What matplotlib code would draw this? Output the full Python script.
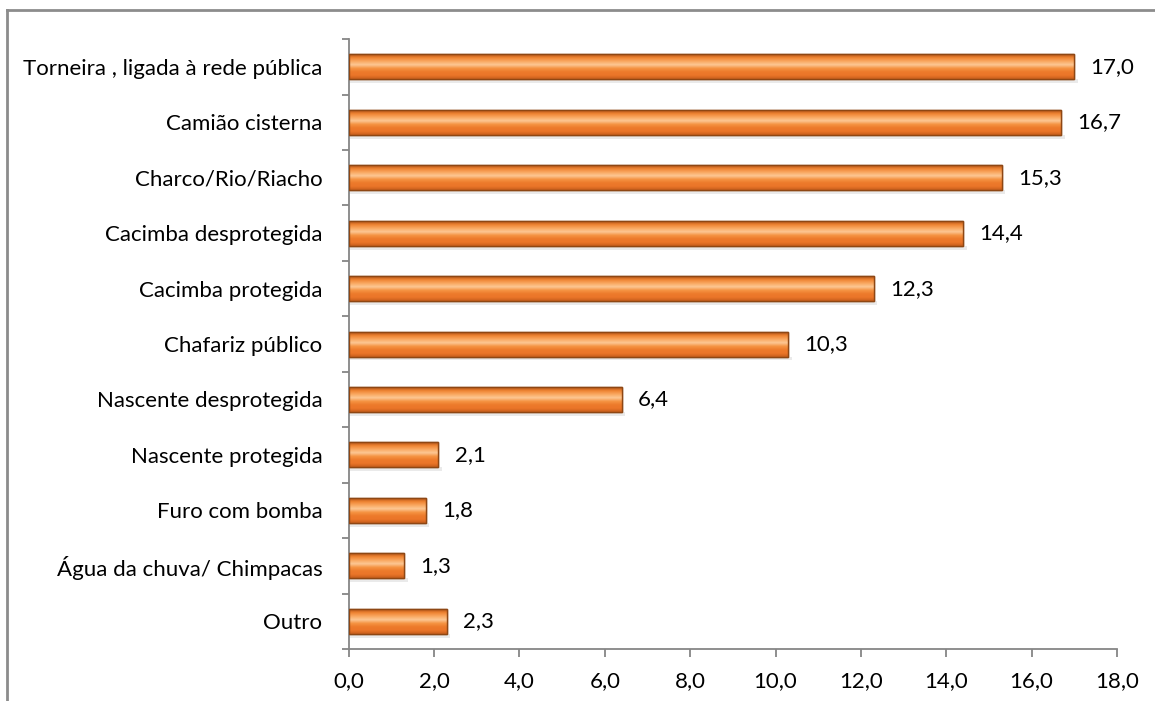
import numpy as np
import matplotlib
matplotlib.use("Agg")
import matplotlib.pyplot as plt
from matplotlib.patches import Rectangle
from matplotlib.lines import Line2D

# Data
categories = ["Torneira , ligada à rede pública", "Camião cisterna", "Charco/Rio/Riacho",
              "Cacimba desprotegida", "Cacimba protegida", "Chafariz público",
              "Nascente desprotegida", "Nascente protegida", "Furo com bomba",
              "Água da chuva/ Chimpacas", "Outro"]
values = [17.0, 16.7, 15.3, 14.4, 12.3, 10.3, 6.4, 2.1, 1.8, 1.3, 2.3]
xticks = [0, 2, 4, 6, 8, 10, 12, 14, 16, 18]

plt.rcParams['font.family'] = ['Lato', 'DejaVu Sans']
fs = 16

fig = plt.figure(figsize=(11.55, 7.01), dpi=100)
ax = fig.add_axes([0.302, 0.0742, 0.665, 0.870])

# vertical gradient used to fake the bevelled orange bars
grad_cols = np.array([
    [0.70, 0.33, 0.09],
    [0.94, 0.52, 0.20],
    [0.98, 0.66, 0.38],
    [0.99, 0.78, 0.58],
    [0.96, 0.58, 0.26],
    [0.93, 0.48, 0.17],
    [0.92, 0.46, 0.16],
    [0.78, 0.37, 0.11],
])
n = 60
pos = np.linspace(0, 1, len(grad_cols))
t = np.linspace(0, 1, n)
img = np.stack([np.interp(t, pos, grad_cols[:, i]) for i in range(3)], axis=-1)
img = img.reshape(n, 1, 3)

bar_h = 0.45
ypos = np.arange(len(categories))
bars = ax.barh(ypos, values, height=bar_h, color='#E8732A', edgecolor='#8E4714',
               linewidth=1.0, zorder=3)
for b, v in zip(bars, values):
    x0, y0 = b.get_x(), b.get_y()
    w, h = b.get_width(), b.get_height()
    # soft shadow under the bar
    ax.add_patch(Rectangle((x0, y0 + h), w + 0.08, 0.07, facecolor='#dcdcdc',
                           edgecolor='none', alpha=0.6, zorder=2))
    im = ax.imshow(img, extent=[x0, x0 + w, y0 + h, y0], aspect='auto',
                   interpolation='bilinear', zorder=3.5)
    im.set_clip_path(b)
    ax.add_patch(Rectangle((x0, y0), w, h, facecolor='none', edgecolor='#8E4714',
                           linewidth=1.0, zorder=4))
    ax.text(v + 0.38, b.get_y() + h / 2, f"{v:.1f}".replace('.', ','),
            va='center', ha='left', fontsize=fs, color='black', zorder=5)

ax.set_xlim(0, 18)
ax.set_ylim(len(categories) - 0.5, -0.5)
ax.set_xticks(xticks)
ax.set_xticklabels([f"{x:.1f}".replace('.', ',') for x in xticks], fontsize=fs)
ax.set_yticks(ypos)
ax.set_yticklabels(categories, fontsize=fs)
ax.set_yticks(np.arange(-0.5, len(categories), 1.0), minor=True)

ax.tick_params(axis='y', which='major', length=0, pad=19)
ax.tick_params(axis='y', which='minor', length=5, width=1.3, color='#868686', direction='out')
ax.tick_params(axis='x', which='major', length=6, width=1.3, color='#868686', pad=10)

for s in ['top', 'right']:
    ax.spines[s].set_visible(False)
for s in ['left', 'bottom']:
    ax.spines[s].set_color('#868686')
    ax.spines[s].set_linewidth(1.3)

# chart area border (top and left only, rest is cut off)
fig.add_artist(Line2D([7 / 1155, 1.0], [1 - 10 / 701, 1 - 10 / 701],
                      transform=fig.transFigure, color='#8c8c8c', linewidth=2))
fig.add_artist(Line2D([7 / 1155, 7 / 1155], [0, 1 - 10 / 701],
                      transform=fig.transFigure, color='#8c8c8c', linewidth=2))

fig.savefig("out.png", dpi=100)
